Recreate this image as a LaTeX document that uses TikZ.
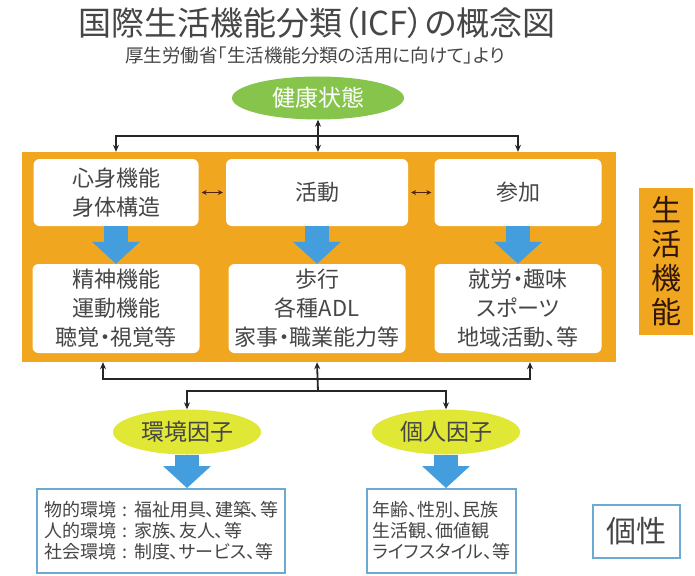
\documentclass[tikz,border=0pt]{standalone}
\usepackage{fontspec}
\setmainfont{Noto Sans CJK JP}[RawFeature=+palt]
\usetikzlibrary{arrows.meta,shapes.geometric,positioning}

\definecolor{icforange}{RGB}{241,166,32}
\definecolor{icfgreen}{RGB}{134,196,76}
\definecolor{icfyellow}{RGB}{224,231,52}
\definecolor{icfblue}{RGB}{68,158,222}
\definecolor{icfframe}{RGB}{108,170,210}
\definecolor{icftext}{RGB}{70,70,70}
\definecolor{icfbrown}{RGB}{80,35,15}

\newcommand{\sep}{\makebox[1em]{:}}

\begin{document}
\begin{tikzpicture}[x=1pt,y=-1pt,>={Stealth[length=7pt,width=6pt]},
    conn/.style={draw=black!85,line width=1.8pt},
    dbl/.style={draw=icfbrown,line width=1.5pt,{Stealth[length=5pt,width=5pt]}-{Stealth[length=5pt,width=5pt]}},
    whitebox/.style={rectangle,rounded corners=6pt,fill=white,text=icftext,align=center,inner sep=0pt,font=\fontsize{22}{29}\selectfont},
    factor/.style={ellipse,fill=icfyellow,text=icftext,inner sep=0pt,minimum width=148pt,minimum height=45pt,font=\fontsize{23}{26}\selectfont},
    listbox/.style={rectangle,draw=icfframe,line width=2pt,fill=white,text=icftext,align=left,inner sep=0pt,font=\fontsize{18}{21}\selectfont},
    bigarrow/.style={draw=icfblue,line width=24pt,-{Triangle[length=22pt,width=48pt,line width=0pt]}}]

    \useasboundingbox (0,0) rectangle (695,575);

    \node[text=icftext,font=\fontsize{33}{36}\selectfont] (title) at (317,23) {国際生活機能分類（ICF）の概念図};
    \node[text=icftext,font=\fontsize{18.5}{21}\selectfont] (source) at (315,55) {厚生労働省「生活機能分類の活用に向けて」より};

    \node[ellipse,fill=icfgreen,text=white,inner sep=0pt,minimum width=172pt,minimum height=43pt,font=\fontsize{23}{26}\selectfont] (health) at (318,98) {健康状態};

    % orange frame
    \node[fill=icforange,minimum width=594pt,minimum height=210pt,inner sep=0pt] (func) at (319,257) {};
    \node[fill=icforange,minimum width=54pt,minimum height=147pt,inner sep=0pt,align=center,text=icfbrown!60!black,font=\fontsize{30}{34}\selectfont] (label) at (666,261.5) {生\\活\\機\\能};

    \node[whitebox,minimum width=165pt,minimum height=67pt] (body) at (116,192.5) {心身機能\\身体構造};
    \node[whitebox,minimum width=182pt,minimum height=67pt] (act) at (317,192.5) {活動};
    \node[whitebox,minimum width=167pt,minimum height=67pt] (part) at (518,192.5) {参加};

    \node[whitebox,minimum width=167pt,minimum height=89pt] (bodyex) at (116,308.5) {精神機能\\運動機能\\聴覚・視覚等};
    \node[whitebox,minimum width=177pt,minimum height=89pt] (actex) at (317,308.5) {歩行\\各種ADL\\家事・職業能力等};
    \node[whitebox,minimum width=167pt,minimum height=89pt] (partex) at (518,308.5) {就労・趣味\\スポーツ\\地域活動、等};

    \node[factor] (env) at (187,432) {環境因子};
    \node[factor] (pers) at (446,432) {個人因子};

    \node[listbox,minimum width=248pt,minimum height=84pt] (envlist) at (161,531) {物的環境\sep 福祉用具、建築、等\\人的環境\sep 家族、友人、等\\社会環境\sep 制度、サービス、等};
    \node[listbox,minimum width=149pt,minimum height=84pt] (perslist) at (441.5,531) {年齢、性別、民族\\生活観、価値観\\ライフスタイル、等};
    \node[listbox,minimum width=87pt,minimum height=53pt,font=\fontsize{30}{34}\selectfont] (self) at (636.5,531.5) {個性};

    % connectors
    \coordinate (topbar) at (318,136);
    \coordinate (lowbar) at (318,379);
    \coordinate (forkbar) at (318,391);

    \draw[conn,<->] (health.south) -- (health.south |- func.north);
    \draw[conn,<->] (body.north |- func.north) |- (topbar) -| (part.north |- func.north);

    \draw[dbl] ([xshift=3pt]body.east) -- ([xshift=-3pt]act.west);
    \draw[dbl] ([xshift=3pt]act.east) -- ([xshift=-3pt]part.west);

    \draw[bigarrow] (body.south) -- (body.south |- bodyex.north);
    \draw[bigarrow] (act.south) -- (act.south |- actex.north);
    \draw[bigarrow] (part.south) -- (part.south |- partex.north);

    \draw[conn,<->] ([xshift=-13pt]bodyex.south |- func.south) |- (lowbar) -| ([xshift=12pt]partex.south |- func.south);
    \draw[conn,->] (forkbar) -- (actex.south |- func.south);
    \draw[conn,<->] (env.north) |- (forkbar) -| (pers.north);

    \draw[bigarrow] (env.south) -- (env.south |- envlist.north);
    \draw[bigarrow] (pers.south) -- (pers.south |- perslist.north);
\end{tikzpicture}
\end{document}
